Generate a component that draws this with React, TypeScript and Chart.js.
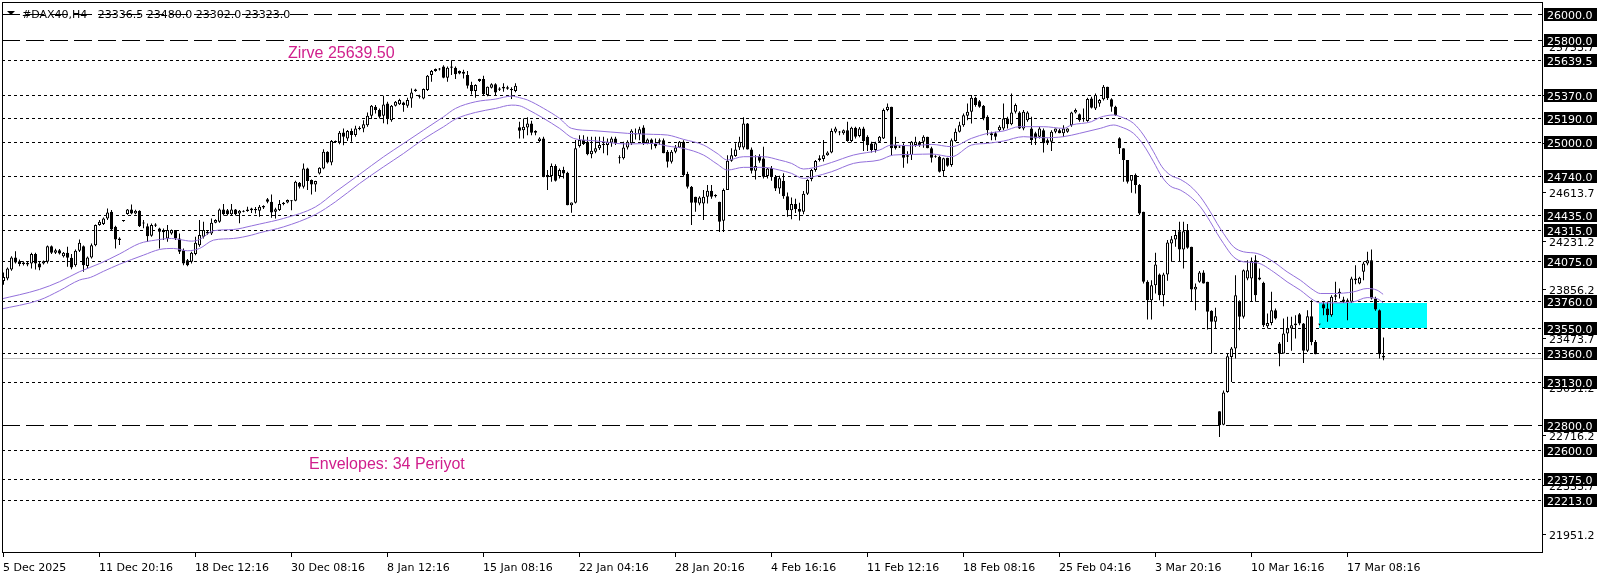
import React, { useEffect, useRef } from "react";
import { Chart, registerables } from "chart.js";

Chart.register(...registerables);

const W = 1606;
const H = 577;

// ---- Candles (H4 bars, index 0 = 5 Dec 2025) ----
const opens = [
  23920,23939,24009,24103,24074,24064,24061,24056,24129,24056,
  24056,24069,24191,24139,24160,24113,24139,24100,24043,24155,
  24191,24036,24103,24199,24355,24363,24407,24459,24342,24251,
  24387,24441,24477,24446,24467,24376,24347,24272,24350,24329,
  24316,24251,24290,24316,24251,24160,24082,24069,24129,24199,
  24264,24303,24290,24373,24381,24477,24470,24440,24477,24446,
  24465,24477,24471,24480,24467,24492,24557,24537,24459,24472,
  24519,24532,24545,24544,24685,24654,24797,24706,24672,24757,
  24797,24926,24843,25010,25000,25077,25030,25088,25057,25114,
  25108,25134,25207,25278,25252,25207,25303,25173,25285,25296,
  25311,25285,25342,25400,25363,25342,25408,25524,25556,25571,
  25590,25504,25582,25582,25555,25550,25524,25446,25400,25478,
  25493,25368,25426,25452,25420,25420,25430,25415,25400,25117,
  25095,25116,25147,25088,25010,25030,24745,24737,24815,24737,
  24784,24763,24510,24529,24971,25018,25004,24908,24927,24953,
  24989,24979,24997,25030,24875,24875,24960,24992,25070,25064,
  25116,24992,25023,24987,25005,25017,24927,24849,24927,24960,
  25004,24753,24654,24576,24524,24524,24576,24622,24580,24537,
  24388,24628,24857,24893,24960,24960,25147,24945,24778,24893,
  24874,24737,24800,24730,24640,24700,24580,24470,24520,24480,
  24460,24600,24714,24784,24862,24870,24900,24921,25082,25080,
  25070,25095,25010,25114,25050,25108,25043,24990,24940,25004,
  25030,25251,25277,24979,24960,24979,24900,24901,24980,25000,
  25004,25043,24953,24890,24888,24776,24880,24823,25010,25082,
  25134,25207,25238,25348,25320,25285,25199,25070,25070,25095,
  25108,25186,25140,25238,25233,25108,25173,25108,25070,25043,
  25095,25017,25004,25082,25095,25070,25082,25134,25233,25218,
  25180,25166,25342,25264,25303,25335,25434,25335,25278,25031,
  24953,24862,24700,24745,24667,24459,23913,23770,23887,23970,
  23809,23970,24212,24243,24308,24165,24316,24186,23853,23913,
  23985,23913,23687,23601,22904,22800,23055,23328,23393,23757,
  23640,23939,23939,24082,23931,23905,23567,23593,23692,23432,
  23354,23510,23549,23575,23660,23588,23375,23645,23445,23580,
  23739,23705,23653,23809,23822,23775,23770,23757,23926,23900,
  23991,24056,24082,23783,23692,23336.5,
];
const highs = [
  23985,24025,24113,24152,24087,24074,24070,24139,24139,24069,
  24080,24196,24196,24170,24168,24145,24186,24130,24165,24243,
  24196,24110,24212,24360,24394,24415,24485,24472,24350,24260,
  24392,24480,24516,24475,24470,24394,24368,24368,24370,24334,
  24329,24355,24320,24316,24290,24173,24090,24147,24264,24394,
  24381,24316,24407,24400,24485,24519,24480,24519,24480,24472,
  24470,24498,24490,24497,24511,24510,24567,24594,24490,24550,
  24535,24555,24550,24700,24690,24835,24802,24710,24700,24806,
  24947,24930,25018,25015,25088,25108,25096,25108,25130,25125,
  25173,25233,25290,25290,25264,25363,25316,25290,25322,25340,
  25316,25348,25420,25418,25370,25420,25524,25564,25575,25580,
  25600,25590,25639.5,25590,25560,25565,25555,25472,25452,25495,
  25519,25435,25460,25460,25430,25460,25440,25430,25460,25160,
  25186,25195,25168,25095,25040,25043,24784,24836,24830,24797,
  24810,24770,24531,25018,25056,25056,25043,25043,25043,25043,
  25043,25030,25043,25043,24900,25004,25017,25101,25108,25121,
  25134,25030,25030,25030,25030,25030,24940,24940,24979,25010,
  25017,24770,24660,24576,24580,24628,24667,24667,24596,24537,
  24641,24900,24953,24992,25043,25195,25150,24960,24900,24908,
  24966,24800,24815,24745,24740,24760,24610,24570,24560,24530,
  24620,24712,24792,24862,24900,25018,24930,25108,25121,25088,
  25100,25160,25121,25121,25120,25121,25056,25004,25004,25050,
  25264,25303,25277,25043,24975,24992,24930,25010,25043,25010,
  25056,25043,24966,24900,24895,24880,24880,25030,25108,25160,
  25225,25303,25369,25355,25330,25290,25212,25082,25082,25134,
  25303,25199,25381,25303,25243,25251,25243,25199,25082,25121,
  25108,25030,25095,25108,25105,25134,25110,25238,25264,25225,
  25264,25348,25355,25381,25337,25447,25434,25343,25285,25039,
  24953,24862,24745,24758,24675,24459,23925,23925,24139,23978,
  23983,24238,24270,24316,24381,24381,24363,24186,23900,23998,
  24004,23913,23692,23712,22904,23067,23354,23406,23965,23770,
  24009,24082,24102,24121,24017,23913,23666,23835,23705,23445,
  23627,23640,23640,23653,23671,23593,23692,23770,23460,23585,
  23757,23757,23809,23913,23861,23796,23783,23952,24043,23952,
  24069,24147,24165,23796,23697,23480,
];
const lows = [
  23890,23926,24000,24056,24035,24040,24035,24017,24009,24004,
  24048,24056,24129,24130,24125,24103,24030,24012,24030,24145,
  23991,24020,24095,24190,24350,24355,24395,24316,24173,24200,
  24382,24435,24440,24440,24340,24330,24225,24264,24340,24173,
  24238,24225,24280,24238,24130,24043,24035,24056,24121,24186,
  24251,24280,24277,24370,24373,24430,24430,24430,24430,24370,
  24455,24460,24450,24445,24420,24480,24525,24412,24407,24465,
  24510,24525,24470,24540,24640,24640,24628,24594,24615,24750,
  24790,24835,24822,24995,24985,24978,25010,25004,25043,25095,
  25078,25121,25181,25225,25186,25148,25140,25160,25280,25290,
  25238,25270,25270,25395,25342,25335,25400,25472,25550,25560,
  25500,25472,25525,25493,25530,25498,25420,25373,25348,25470,
  25368,25360,25420,25368,25400,25395,25410,25338,25390,25030,
  25030,25056,25056,25056,25000,24727,24628,24693,24695,24718,
  24718,24510,24451,24524,24960,24979,24900,24875,24914,24940,
  24914,24900,24966,24979,24836,24867,24945,24979,25023,25017,
  24979,24985,24945,24953,24979,24914,24804,24836,24914,24955,
  24732,24641,24355,24459,24510,24394,24524,24560,24570,24302,
  24302,24628,24848,24888,24940,24945,24945,24758,24711,24840,
  24719,24719,24700,24620,24600,24560,24420,24400,24450,24390,
  24440,24590,24697,24770,24850,24850,24895,24914,25070,25056,
  25060,25004,25000,25030,25040,24932,24932,24921,24921,25000,
  25025,25243,24900,24945,24955,24802,24836,24862,24966,24966,
  24958,24953,24843,24880,24765,24731,24810,24810,25004,25077,
  25121,25173,25147,25277,25270,25173,25056,25017,25017,25082,
  25095,25108,25134,25225,25103,25095,25160,24979,24979,25030,
  24921,24979,24932,25070,25070,25043,25075,25121,25225,25160,
  25160,25160,25264,25251,25277,25325,25330,25239,25205,24909,
  24693,24680,24607,24602,24433,23900,23619,23619,23822,23770,
  23723,23921,24069,24186,24069,24017,24170,23757,23692,23905,
  23900,23541,23354,23549,22703,22795,23049,23132,23315,23536,
  23627,23926,23757,23757,23926,23562,23549,23575,23619,23255,
  23354,23445,23375,23471,23575,23281,23367,23419,23349,23575,
  23653,23601,23640,23770,23783,23749,23614,23749,23895,23895,
  23926,24043,23775,23687,23315,23302,
];
const closes = [
  23950,24017,24103,24064,24051,24051,24048,24129,24056,24025,
  24074,24191,24139,24160,24134,24139,24100,24025,24155,24217,
  24043,24103,24199,24355,24381,24407,24454,24321,24243,24238,
  24387,24477,24446,24467,24347,24368,24269,24355,24360,24303,
  24300,24316,24316,24251,24147,24056,24043,24139,24217,24277,
  24316,24290,24373,24394,24477,24439,24440,24477,24440,24467,
  24460,24465,24484,24470,24498,24503,24537,24454,24479,24519,
  24529,24550,24540,24693,24654,24797,24698,24672,24698,24802,
  24926,24843,25010,25000,25075,25044,25088,25057,25108,25103,
  25140,25207,25285,25252,25199,25295,25186,25285,25316,25329,
  25290,25329,25389,25412,25355,25415,25519,25556,25571,25568,
  25504,25582,25590,25530,25537,25535,25441,25400,25446,25493,
  25374,25433,25452,25389,25410,25433,25418,25405,25441,25090,
  25122,25147,25075,25075,25030,24732,24727,24815,24700,24784,
  24758,24510,24531,24953,25018,24987,24908,24934,24953,24979,
  24979,25004,25030,24997,24875,24960,25004,25090,25062,25101,
  24992,25023,24987,24970,25017,24914,24849,24927,24960,25004,
  24745,24654,24529,24529,24570,24576,24622,24576,24590,24381,
  24628,24857,24900,24945,25004,25147,24945,24778,24815,24857,
  24732,24796,24730,24640,24720,24580,24470,24520,24480,24460,
  24600,24706,24784,24854,24875,24900,24921,25088,25108,25077,
  25095,25010,25114,25043,25108,25010,24978,24940,24992,25043,
  25251,25277,24953,24953,24966,24880,24888,25004,25004,24980,
  25043,24953,24880,24888,24770,24875,24818,25017,25082,25134,
  25212,25238,25348,25290,25277,25186,25095,25056,25043,25121,
  25186,25140,25233,25290,25108,25238,25233,25017,25030,25108,
  24992,24992,25082,25108,25070,25108,25108,25233,25251,25173,
  25190,25337,25270,25368,25330,25434,25343,25278,25213,24953,
  24862,24693,24745,24667,24446,23913,23770,23887,24048,23809,
  23970,24219,24245,24277,24165,24308,24178,23853,23874,23985,
  23900,23679,23601,23645,22795,23050,23333,23393,23809,23640,
  24004,24004,24069,23809,23946,23575,23593,23692,23627,23354,
  23510,23549,23575,23588,23588,23375,23645,23445,23349,23580,
  23705,23653,23796,23796,23835,23757,23757,23939,23939,23944,
  24056,24082,23783,23697,23349,23323,
];

// ---- Envelopes (34), at bar positions ----
const upperIdx = [-1,9,14,19,24,29,34,38,42,44,47,49,52.5,57.5,62,64,70,78,83,89,95,100,105,110,113,118,123,127,129,131,135,139,142,147.5,156,162.5,166,170,175,178.4,181,185,190,194,197,200,202.5,207,212.5,219,222,227,232,237,242,246,250,254,260,265,267,272,274.2,277.5,279.2,282.5,285,287.5,289.6,291.7,294.2,296.7,299.2,301.7,303.4,305,307.5,310,313.4,317.5,320.9,324.2,327.5,329.2,332.5,337.5,340.9,343.4,344.9];
const upperVals = [23776,23854,23914,23992,24055,24130,24212,24238,24251,24243,24230,24243,24311,24321,24349,24363,24407,24497,24614,24750,24887,24991,25095,25199,25264,25316,25337,25360,25348,25330,25265,25187,25109,25091,25070,25062,25057,25023,24979,24914,24862,24888,24888,24862,24836,24792,24802,24843,24901,24940,24979,24973,24984,24966,25031,25070,25088,25122,25122,25109,25135,25161,25195,25213,25200,25148,25057,24927,24810,24745,24711,24659,24576,24459,24368,24290,24186,24147,24134,24069,23991,23926,23848,23822,23822,23835,23861,23848,23816];
const lowerIdx = [-1,9,14,19,21.7,25,29,35,39,42.5,46,49,52.5,57.5,62,64,70,78,83,89,95,100,105,110,113,118,123,127,129,131,135,139,142.5,147.5,156,162.5,166,170,175,178.4,181,185,190,194,197,200,202.5,207,212.5,219,222.5,227.5,232,237,242,246,250,255,260,265,269,274.2,277.5,279.2,282.5,285,287.5,289.6,291.7,294.2,296.7,299.2,301.7,303.4,305,307.5,310,313.4,317.5,320.9,324.2,327.5,329.2,332.5,337.5,340.9,343.4,344.9];
const lowerVals = [23698,23771,23844,23927,23947,23995,24050,24121,24165,24173,24155,24173,24238,24251,24277,24295,24341,24438,24537,24679,24809,24913,25025,25121,25181,25233,25264,25290,25285,25257,25187,25109,25031,25013,24987,24992,24971,24953,24901,24831,24784,24805,24805,24784,24758,24719,24732,24771,24836,24862,24901,24906,24909,24888,24979,24992,25010,25044,25036,25044,25070,25109,25135,25122,25070,24979,24849,24732,24659,24628,24576,24498,24381,24290,24212,24108,24069,24061,23991,23913,23848,23770,23749,23749,23757,23790,23782,23749];

// ---- Axes ----
const xTickIdx = [0,24,48,72,96,120,144,168,192,216,240,264,288,312,336];
const xTickLabels = ["5 Dec 2025","11 Dec 20:16","18 Dec 12:16","30 Dec 08:16","8 Jan 12:16","15 Jan 08:16","22 Jan 04:16","28 Jan 20:16","4 Feb 16:16","11 Feb 12:16","18 Feb 08:16","25 Feb 04:16","3 Mar 20:16","10 Mar 16:16","17 Mar 08:16"];
const priceTicks = [21951.2,22333.7,22716.2,23091.2,23473.7,23856.2,24231.2,24613.7,24996.2,25371.2,25753.7];
const levelsDot = [25639.5,25370,25190,25000,24740,24435,24315,24075,23760,23550,23360,23130,22600,22375,22213];
const levelsDash = [26000,25800,22800];
const bidPrice = 23323.0;
const zoneIdx = [328.875, 355.875];
const zonePrices = [23750, 23552];
const symbolLabel = "#DAX40,H4";
const peakNote = "Zirve 25639.50";
const peakNoteAt = [71.1, 25657];
const envNote = "Envelopes: 34 Periyot";
const envNoteAt = [76.4, 22452];

const X_MIN = -0.375;
const X_MAX = 384.625;
const Y_MIN = 21800;
const Y_MAX = 26093.5;

const AXIS_FONT = '11px "DejaVu Sans", Tahoma, sans-serif';
const NOTE_FONT = '16px "Liberation Sans", Arial, sans-serif';
const NOTE_COLOR = "#D01E8C";
const ENV_COLOR = "#9370DB";

const fmt = (v: number) => v.toFixed(1);

const overlay = {
  id: "mtOverlay",
  beforeDraw(chart: any) {
    const { ctx, chartArea: a, scales } = chart;
    const xs = scales.x;
    const ys = scales.y;
    ctx.save();
    ctx.fillStyle = "#ffffff";
    ctx.fillRect(0, 0, chart.width, chart.height);
    // zone rectangle (background object)
    const zl = Math.round(xs.getPixelForValue(zoneIdx[0]));
    const zr = Math.round(xs.getPixelForValue(zoneIdx[1]));
    const zt = Math.round(ys.getPixelForValue(zonePrices[0]));
    const zb = Math.round(ys.getPixelForValue(zonePrices[1]));
    ctx.fillStyle = "#00FFFF";
    ctx.fillRect(zl, zt, zr - zl, zb - zt);
    const hline = (v: number, dash: number[], color: string) => {
      const py = Math.round(ys.getPixelForValue(v)) + 0.5;
      ctx.beginPath();
      ctx.setLineDash(dash);
      ctx.strokeStyle = color;
      ctx.lineWidth = 1;
      ctx.moveTo(a.left, py);
      ctx.lineTo(a.right, py);
      ctx.stroke();
    };
    hline(bidPrice, [], "#C0C0C0");
    levelsDot.forEach((v) => hline(v, [3, 3], "#000000"));
    levelsDash.forEach((v) => hline(v, [18, 6], "#000000"));
    ctx.restore();
  },
  afterDraw(chart: any) {
    const { ctx, chartArea: a, scales } = chart;
    const xs = scales.x;
    const ys = scales.y;
    ctx.save();
    ctx.setLineDash([]);
    ctx.lineWidth = 1;
    ctx.strokeStyle = "#000000";
    // frame
    ctx.strokeRect(a.left + 0.5, a.top + 0.5, a.right - a.left, a.bottom - a.top - 1);

    // price axis: plain ticks
    ctx.font = AXIS_FONT;
    ctx.textBaseline = "alphabetic";
    ctx.textAlign = "left";
    priceTicks.forEach((v) => {
      const py = Math.round(ys.getPixelForValue(v));
      if (py < a.top || py > a.bottom) return;
      ctx.beginPath();
      ctx.moveTo(a.right, py + 0.5);
      ctx.lineTo(a.right + 4, py + 0.5);
      ctx.stroke();
      ctx.fillStyle = "#000000";
      ctx.fillText(fmt(v), a.right + 7, py + 5);
    });
    // price axis: level labels
    [...levelsDot, ...levelsDash].forEach((v) => {
      const py = Math.round(ys.getPixelForValue(v));
      ctx.fillStyle = "#000000";
      ctx.fillRect(a.right + 2, py - 6, 53, 13);
      ctx.fillStyle = "#ffffff";
      ctx.fillText(fmt(v), a.right + 5, py + 5);
    });

    // time axis
    ctx.fillStyle = "#000000";
    xTickIdx.forEach((idx, k) => {
      const px = Math.floor(xs.getPixelForValue(idx));
      ctx.beginPath();
      ctx.moveTo(px + 0.5, a.bottom);
      ctx.lineTo(px + 0.5, a.bottom + 4);
      ctx.stroke();
      ctx.fillText(xTickLabels[k], px, a.bottom + 18);
    });

    // header
    const n = closes.length;
    ctx.beginPath();
    ctx.moveTo(7, 11);
    ctx.lineTo(15, 11);
    ctx.lineTo(11, 15);
    ctx.closePath();
    ctx.fill();
    const header = symbolLabel + "   " + [opens[n - 1], highs[n - 1], lows[n - 1], closes[n - 1]].map(fmt).join(" ");
    ctx.fillText(header, 22, 18);

    // notes
    ctx.font = NOTE_FONT;
    ctx.fillStyle = NOTE_COLOR;
    ctx.fillText(peakNote, xs.getPixelForValue(peakNoteAt[0]), ys.getPixelForValue(peakNoteAt[1]));
    ctx.fillText(envNote, xs.getPixelForValue(envNoteAt[0]), ys.getPixelForValue(envNoteAt[1]));
    ctx.restore();
  },
};

export default function App() {
  const ref = useRef<HTMLCanvasElement | null>(null);
  useEffect(() => {
    const canvas = ref.current;
    if (!canvas) return;
    const n = Math.min(opens.length, highs.length, lows.length, closes.length);
    const idx = Array.from({ length: n }, (_, i) => i);
    const chart = new Chart(canvas, {
      type: "bar",
      data: {
        datasets: [
          {
            type: "line",
            label: "Envelope upper",
            data: upperIdx.map((x, k) => ({ x, y: upperVals[k] })),
            borderColor: ENV_COLOR,
            borderWidth: 1,
            pointRadius: 0,
            cubicInterpolationMode: "monotone",
            fill: false,
            order: 1,
          },
          {
            type: "line",
            label: "Envelope lower",
            data: lowerIdx.map((x, k) => ({ x, y: lowerVals[k] })),
            borderColor: ENV_COLOR,
            borderWidth: 1,
            pointRadius: 0,
            cubicInterpolationMode: "monotone",
            fill: false,
            order: 1,
          },
          {
            type: "bar",
            label: "Body",
            data: idx.map((i) => ({ x: i, y: [opens[i], closes[i]] })),
            backgroundColor: (c: any) => (closes[c.dataIndex] >= opens[c.dataIndex] ? "#ffffff" : "#000000"),
            borderColor: "#000000",
            borderWidth: 1,
            borderSkipped: false,
            barThickness: 3,
            minBarLength: 1,
            grouped: false,
            inflateAmount: 0,
            order: 2,
          },
          {
            type: "bar",
            label: "Wick",
            data: idx.map((i) => ({ x: i, y: [lows[i], highs[i]] })),
            backgroundColor: "#000000",
            borderWidth: 0,
            barThickness: 1,
            grouped: false,
            inflateAmount: 0,
            order: 3,
          },
        ],
      } as any,
      options: {
        animation: false,
        responsive: false,
        maintainAspectRatio: false,
        devicePixelRatio: 1,
        events: [],
        layout: { padding: { left: 2, top: 2, right: 64, bottom: 24 } },
        plugins: { legend: { display: false }, tooltip: { enabled: false } },
        scales: {
          x: { type: "linear", min: X_MIN, max: X_MAX, display: false, offset: false },
          y: { type: "linear", min: Y_MIN, max: Y_MAX, display: false },
        },
      } as any,
      plugins: [overlay],
    });
    return () => chart.destroy();
  }, []);
  return (
    <div style={{ position: "absolute", left: 0, top: 0, width: W, height: H, background: "#ffffff" }}>
      <canvas ref={ref} width={W} height={H} style={{ display: "block", width: W, height: H }} />
    </div>
  );
}
